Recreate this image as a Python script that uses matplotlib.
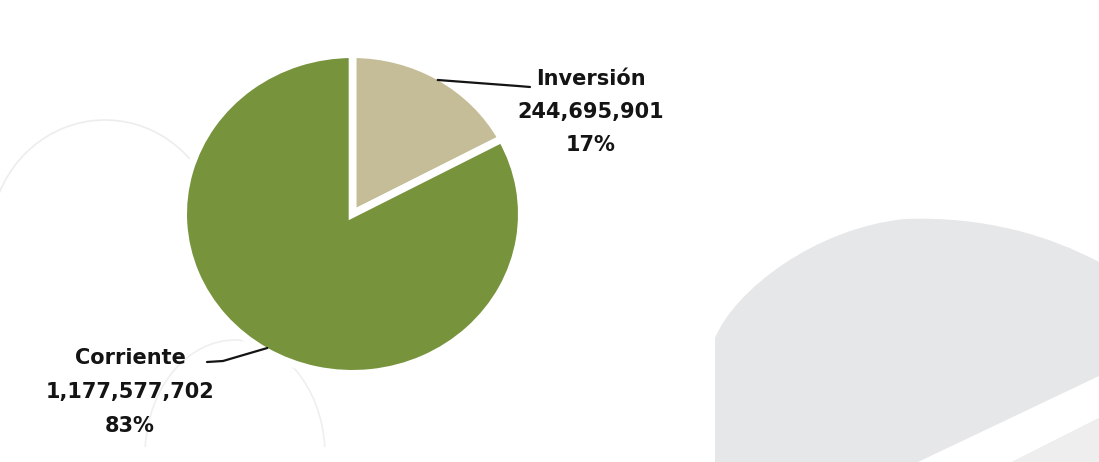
import numpy as np
import matplotlib
matplotlib.use("Agg")
import matplotlib.pyplot as plt
from matplotlib.patches import Polygon, Arc, PathPatch
from matplotlib.path import Path

# Budget split by type of spending
categories = ["Inversión", "Corriente"]
amounts = [244695901, 1177577702]
colors = ["#C4BD97", "#77933C"]

W, H = 1099, 462
fig = plt.figure(figsize=(W / 100, H / 100), dpi=100)
fig.patch.set_facecolor("white")

# Background decoration drawn in pixel space (y grows downward)
bg = fig.add_axes([0, 0, 1, 1], zorder=-1)
bg.set_xlim(0, W)
bg.set_ylim(H, 0)
bg.axis("off")

M, L, C = Path.MOVETO, Path.LINETO, Path.CURVE4
shape_verts = [(715, 462), (715, 338),
               (735, 290), (815, 228), (905, 219),
               (985, 216), (1050, 236), (1099, 262),
               (1099, 462), (715, 462)]
shape_codes = [M, L, C, C, C, C, C, C, L, Path.CLOSEPOLY]
bg.add_patch(PathPatch(Path(shape_verts, shape_codes),
                       facecolor="#E6E7E9", edgecolor="none"))
band = [(918, 462), (1099, 376), (1099, 418), (1012, 462)]
bg.add_patch(Polygon(band, closed=True, facecolor="white", edgecolor="none"))
bg.add_patch(Polygon([(1012, 462), (1099, 418), (1099, 462)], closed=True,
                     facecolor="#EEEEEF", edgecolor="none"))
# faint ring outlines
bg.add_patch(Arc((105, 240), 230, 240, theta1=-170, theta2=-25,
                 edgecolor="#EDEDED", lw=1.2))
bg.add_patch(Arc((235, 455), 180, 230, theta1=185, theta2=355,
                 edgecolor="#EFEFEF", lw=1.2))

# Pie axes (slightly wider than tall)
cx, cy = 352.5, 214.0
rx, ry = 169.3, 159.8
ax = fig.add_axes([(cx - rx) / W, (H - cy - ry) / H, 2 * rx / W, 2 * ry / H])
wedges, _ = ax.pie(amounts, colors=colors, startangle=90, counterclock=False,
                   wedgeprops=dict(edgecolor="white", linewidth=5.5))
ax.set_aspect("auto")
ax.set_xlim(-1, 1)
ax.set_ylim(-1, 1)
ax.axis("off")

total = sum(amounts)
text_color = "#141414"
label_font = dict(family="DejaVu Sans", fontweight="bold", fontsize=15,
                  color=text_color, ha="center", va="center")


def px(x, y):
    """Convert pixel position to pie-axes data coordinates."""
    return (x - cx) / rx, (cy - y) / ry


# label block centres (pixels) and leader elbow points
label_pos = {"Inversión": (591, [79, 112, 145]),
             "Corriente": (130, [358, 392, 426])}
elbows = {"Inversión": [(518, 86), (530, 87)],
          "Corriente": [(223, 361), (207, 362)]}

for w, name, amt in zip(wedges, categories, amounts):
    mid = np.deg2rad((w.theta1 + w.theta2) / 2)
    r = 0.978
    start = (r * np.cos(mid), r * np.sin(mid))
    pts = [start] + [px(*p) for p in elbows[name]]
    xs, ys = zip(*pts)
    ax.plot(xs, ys, color=text_color, lw=1.6, clip_on=False,
            solid_capstyle="round", solid_joinstyle="round")
    lx, lys = label_pos[name]
    lines = [name, f"{amt:,}", f"{amt / total:.0%}"]
    for txt, ly in zip(lines, lys):
        tx, ty = px(lx, ly)
        ax.text(tx, ty, txt, clip_on=False, **label_font)

fig.savefig("out.png", dpi=100, facecolor="white")
